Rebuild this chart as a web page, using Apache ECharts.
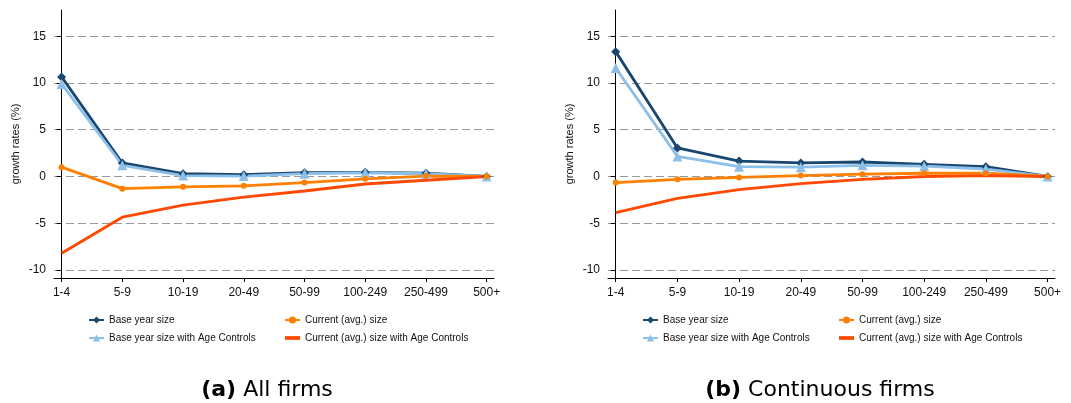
<!DOCTYPE html>
<html>
<head>
<meta charset="utf-8">
<script src="https://cdn.jsdelivr.net/npm/echarts@6/dist/echarts.min.js"></script>
<style>
html,body{margin:0;padding:0;background:#fff;}
#c{width:1071px;height:403px;}
</style>
</head>
<body>
<div id="c"></div>
<script>
const categories = ['1-4','5-9','10-19','20-49','50-99','100-249','250-499','500+'];
const yTicks = [-10,-5,0,5,10,15];
const seriesNames = ['Base year size','Base year size with Age Controls','Current (avg.) size','Current (avg.) size with Age Controls'];

// Panel (a) All firms
const allBase      = [10.65, 1.45, 0.3, 0.2, 0.4, 0.45, 0.35, 0];
const allBaseAge   = [9.9, 1.2, 0.1, 0.05, 0.3, 0.4, 0.3, 0];
const allCurr      = [1.0, -1.3, -1.1, -1.0, -0.65, -0.25, 0.05, 0];
const allCurrAge   = [-8.2, -4.35, -3.05, -2.2, -1.55, -0.8, -0.4, 0];

// Panel (b) Continuous firms
const contBase     = [13.35, 3.05, 1.65, 1.45, 1.55, 1.3, 1.05, 0];
const contBaseAge  = [11.6, 2.15, 1.05, 1.0, 1.2, 1.1, 0.8, 0];
const contCurr     = [-0.65, -0.3, -0.1, 0.1, 0.25, 0.35, 0.35, 0];
const contCurrAge  = [-3.85, -2.35, -1.4, -0.75, -0.3, 0.0, 0.1, 0];

const titleA = ['(a)', ' All firms'];
const titleB = ['(b)', ' Continuous firms'];
const yTitle = 'growth rates (%)';

const colors = ['#1a476f', '#8cc0e8', '#ff8000', '#ff4800'];
const symbols = ['diamond', 'triangle', 'circle', 'none'];
const symSizes = [9, 10, 6, 0];

const pts = arr => arr.map((v, i) => [i, v]);
const catIdx = categories.map((c, i) => i);

const grids = [
  {left: 54, top: 10, width: 440, height: 268},
  {left: 608, top: 10, width: 447, height: 268}
];

function xAxis(gi) {
  return {
    type: 'value', gridIndex: gi, min: -0.125, max: 7.12,
    axisLine: {show: true, onZero: false, lineStyle: {color: '#000', width: 1}},
    axisTick: {show: true, length: 4, customValues: catIdx, lineStyle: {color: '#000'}},
    axisLabel: {customValues: catIdx, formatter: v => categories[Math.round(v)] || '',
      color: '#111', fontSize: 12, fontFamily: 'Liberation Sans, Arial, sans-serif', margin: 9},
    splitLine: {show: false}
  };
}
function yAxis(gi) {
  return {
    type: 'value', gridIndex: gi, min: -10.85, max: 17.8,
    name: yTitle, nameLocation: 'middle', nameGap: 33,
    nameTextStyle: {fontSize: 11, color: '#111', fontFamily: 'Liberation Sans, Arial, sans-serif'},
    axisLine: {show: true, lineStyle: {color: '#000', width: 1}},
    axisTick: {show: true, length: 5, customValues: yTicks, lineStyle: {color: '#000'}},
    axisLabel: {customValues: yTicks, color: '#111', fontSize: 12, margin: 8,
      fontFamily: 'Liberation Sans, Arial, sans-serif'},
    splitLine: {show: true, lineStyle: {color: '#999', type: [8, 4], width: 1.2}}
  };
}

const panels = [
  [allBase, allBaseAge, allCurr, allCurrAge],
  [contBase, contBaseAge, contCurr, contCurrAge]
];
const series = [];
panels.forEach((p, gi) => {
  p.forEach((arr, si) => {
    series.push({
      type: 'line', name: seriesNames[si], xAxisIndex: gi, yAxisIndex: gi,
      data: pts(arr), symbol: symbols[si], symbolSize: symSizes[si],
      showSymbol: si !== 3,
      lineStyle: {color: colors[si], width: 2.8},
      itemStyle: {color: colors[si]},
      animation: false
    });
  });
});

function legend(left, names) {
  return {
    orient: 'vertical', left: left, top: 315, padding: 0, itemWidth: 15, itemHeight: 9, itemGap: 8,
    data: names.map(n => n === seriesNames[3]
      ? {name: n, icon: 'path://M0,0h14v3.5h-14z'} : n),
    selectedMode: false,
    textStyle: {fontSize: 10, color: '#111', fontFamily: 'Liberation Sans, Arial, sans-serif'}
  };
}

function title(parts, x) {
  return {
    text: '{b|' + parts[0] + '}{n|' + parts[1] + '}', left: x, top: 379, padding: 0, textAlign: 'center',
    textStyle: {fontWeight: 'normal', fontSize: 22, fontFamily: 'DejaVu Sans', color: '#000',
      rich: {b: {fontSize: 22, fontWeight: 'bold', fontFamily: 'DejaVu Sans', color: '#000'},
             n: {fontSize: 22, fontWeight: 'normal', fontFamily: 'DejaVu Sans', color: '#000'}}}
  };
}

const chart = echarts.init(document.getElementById('c'), null, {renderer: 'canvas'});
chart.setOption({
  animation: false,
  backgroundColor: '#fff',
  grid: grids,
  xAxis: [xAxis(0), xAxis(1)],
  yAxis: [yAxis(0), yAxis(1)],
  legend: [
    legend(88, [seriesNames[0], seriesNames[1]]),
    legend(284, [seriesNames[2], seriesNames[3]]),
    legend(642, [seriesNames[0], seriesNames[1]]),
    legend(838, [seriesNames[2], seriesNames[3]])
  ],
  title: [title(titleA, 267), title(titleB, 820)],
  series: series
});
</script>
</body>
</html>
